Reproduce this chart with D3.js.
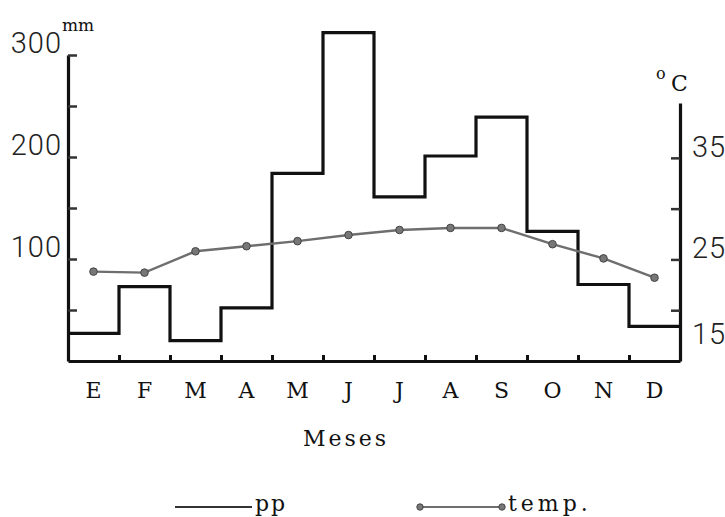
<!DOCTYPE html>
<html>
<head>
<meta charset="utf-8">
<script src="https://cdn.jsdelivr.net/npm/d3@7"></script>
<style>
	body { margin: 0; background: #fff; }
	svg { display: block; }
	.num { font-family: Roboto, "Liberation Sans", sans-serif; font-weight: 300; font-size: 29px; fill: #222; letter-spacing: 1px; }
	.tw { font-family: "DejaVu Serif", serif; fill: #111; }
</style>
</head>
<body>
<div id="chart"></div>
<script>
// data
var months = ["E", "F", "M", "A", "M ", "J", "J ", "A ", "S", "O", "N", "D"];
var precip = [27, 73, 20, 52, 184, 322, 161, 201, 239, 127, 75, 34];
var temp = [23.8, 23.7, 25.8, 26.3, 26.8, 27.4, 27.9, 28.1, 28.1, 26.5, 25.1, 23.2];
var ppTicks = [50, 100, 150, 200, 250, 300];
var ppLabels = [100, 200, 300];
var tTicks = [15, 20, 25, 30, 35];
var tLabels = [15, 25, 35];

var width = 725, height = 517;
var left = 68, right = 680, base = 361;

var svg = d3.select("#chart").append("svg")
		.attr("width", width)
		.attr("height", height);

var x = d3.scaleBand().domain(months).range([left, right]).padding(0);
var xEdge = d3.scaleLinear().domain([0, 12]).range([left, right]);
var yP = d3.scaleLinear().domain([0, 300]).range([base, 55]);
var yT = d3.scaleLinear().domain([15, 40.4]).range([base, 103]);

// precipitation step line
var steps = [];
precip.forEach(function(v, i) {
	steps.push([x(months[i]), yP(v)]);
	steps.push([x(months[i]) + x.bandwidth(), yP(v)]);
});
svg.append("path")
		.datum(steps)
		.attr("fill", "none")
		.attr("stroke", "#111")
		.attr("stroke-width", 3.2)
		.attr("d", d3.line());

// temperature line
var tline = d3.line()
		.x(function(d, i) { return x(months[i]) + x.bandwidth() / 2; })
		.y(function(d) { return yT(d); });
svg.append("path")
		.datum(temp)
		.attr("fill", "none")
		.attr("stroke", "#6e6e6e")
		.attr("stroke-width", 2.4)
		.attr("d", tline);
svg.selectAll(".tdot")
		.data(temp)
	.enter().append("circle")
		.attr("class", "tdot")
		.attr("cx", function(d, i) { return x(months[i]) + x.bandwidth() / 2; })
		.attr("cy", function(d) { return yT(d); })
		.attr("r", 3.8)
		.attr("fill", "#777")
		.attr("stroke", "#444")
		.attr("stroke-width", 1);

// left axis
var gL = svg.append("g")
		.attr("transform", "translate(" + left + ",0)")
		.call(d3.axisLeft(yP).tickValues(ppTicks).tickSizeInner(-9).tickSizeOuter(0).tickPadding(6)
			.tickFormat(function(d) { return ppLabels.indexOf(d) >= 0 ? d : ""; }));
gL.selectAll("text").attr("class", "num").attr("dy", "-0.1em");
gL.select(".domain").attr("stroke-width", 3.2).attr("stroke", "#111");
gL.selectAll(".tick line").attr("stroke-width", 2.5).attr("stroke", "#333");

// right axis
var gR = svg.append("g")
		.attr("transform", "translate(" + right + ",0)")
		.call(d3.axisRight(yT).tickValues(tTicks).tickSizeInner(-9).tickSizeOuter(0).tickPadding(12)
			.tickFormat(function(d) { return tLabels.indexOf(d) >= 0 ? d : ""; }));
gR.selectAll("text").attr("class", "num").attr("dy", "-0.05em");
gR.select(".domain").attr("stroke-width", 3.2).attr("stroke", "#111");
gR.selectAll(".tick line").attr("stroke-width", 2.5).attr("stroke", "#333");
gR.selectAll(".tick").filter(function(d) { return d === 15; }).select("text").attr("dy", "-0.6em");

// bottom axis: boundary ticks and month letters
var gB = svg.append("g")
		.attr("transform", "translate(0," + base + ")")
		.call(d3.axisBottom(xEdge).tickValues(d3.range(1, 12)).tickSizeInner(-6).tickSizeOuter(0).tickFormat(""));
gB.select(".domain").attr("stroke-width", 3.2).attr("stroke", "#111");
gB.selectAll(".tick line").attr("stroke-width", 3).attr("stroke", "#111");

var gM = svg.append("g")
		.attr("transform", "translate(0," + base + ")")
		.call(d3.axisBottom(x).tickSize(0).tickPadding(21));
gM.select(".domain").remove();
gM.selectAll("text").attr("class", "tw").style("font-size", "22px");

// unit labels
svg.append("text").attr("class", "tw").attr("x", 62).attr("y", 31).style("font-size", "17px").text("mm");
svg.append("text").attr("class", "tw").attr("x", 656).attr("y", 79).style("font-size", "16px").text("o");
svg.append("text").attr("class", "tw").attr("x", 671).attr("y", 91).style("font-size", "22px").text("C");

// axis title
svg.append("text").attr("class", "tw")
		.attr("x", 346).attr("y", 446)
		.attr("text-anchor", "middle")
		.style("font-size", "22px")
		.style("letter-spacing", "3px")
		.text("Meses");

// legend
var lg = svg.append("g");
lg.append("line").attr("x1", 175).attr("x2", 252).attr("y1", 507).attr("y2", 507)
		.attr("stroke", "#333").attr("stroke-width", 2.2);
lg.append("text").attr("class", "tw").attr("x", 255).attr("y", 511)
		.style("font-size", "22px").style("letter-spacing", "2px").text("pp");
lg.append("line").attr("x1", 420).attr("x2", 502).attr("y1", 507).attr("y2", 507)
		.attr("stroke", "#6e6e6e").attr("stroke-width", 2.2);
lg.selectAll(".ldot").data([420, 502]).enter().append("circle")
		.attr("cx", function(d) { return d; }).attr("cy", 507).attr("r", 3.2)
		.attr("fill", "#777").attr("stroke", "#444");
lg.append("text").attr("class", "tw").attr("x", 508).attr("y", 511)
		.style("font-size", "22px").style("letter-spacing", "4px").text("temp.");
</script>
</body>
</html>
